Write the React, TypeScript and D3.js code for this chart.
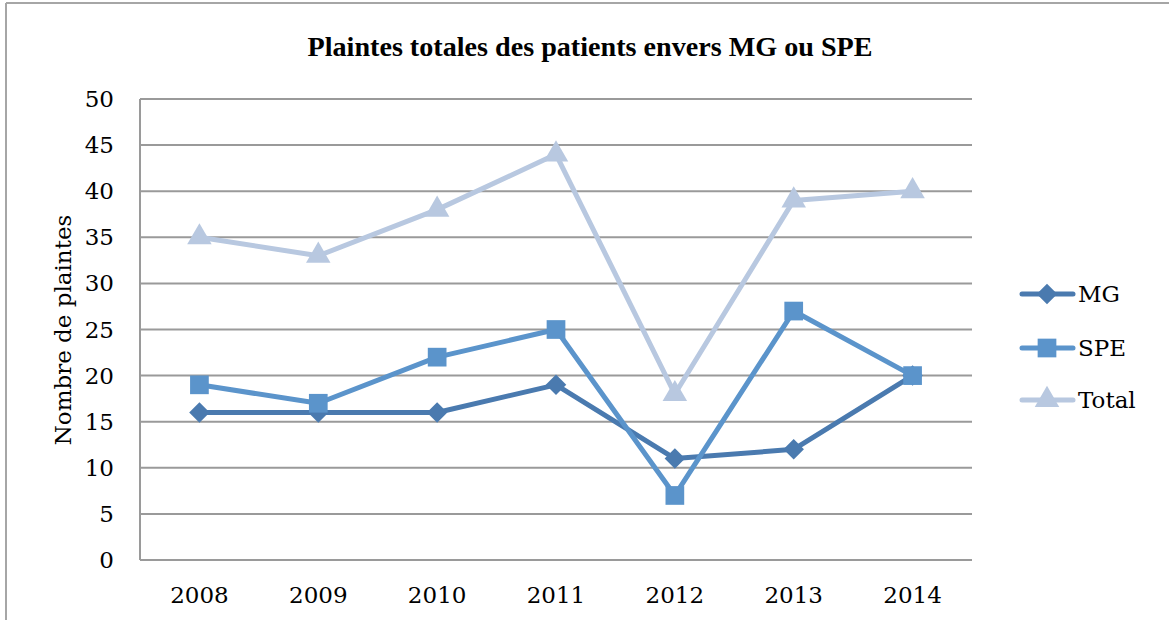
import React, { useRef, useEffect } from "react";
import * as d3 from "d3";

const years = ["2008", "2009", "2010", "2011", "2012", "2013", "2014"];
const mgValues = [16, 16, 16, 19, 11, 12, 20];
const speValues = [19, 17, 22, 25, 7, 27, 20];
const totalValues = [35, 33, 38, 44, 18, 39, 40];
const yTicks = [0, 5, 10, 15, 20, 25, 30, 35, 40, 45, 50];

const series = [
  { name: "MG", values: mgValues, color: "#4a7aaf", symbol: d3.symbolSquare, size: 210, rotate: 45 },
  { name: "SPE", values: speValues, color: "#5b94cb", symbol: d3.symbolSquare, size: 350, rotate: 0 },
  { name: "Total", values: totalValues, color: "#b8c8e0", symbol: d3.symbolTriangle, size: 260, rotate: 0 },
];

const W = 1169;
const H = 620;
const FONT = "'DejaVu Serif', serif";

export default function App() {
  const svgRef = useRef<SVGSVGElement>(null);

  useEffect(() => {
    const svg = d3.select(svgRef.current);
    svg.selectAll("*").remove();

    const left = 140, right = 972, top = 99, bottom = 560;

    const x = d3.scaleBand().domain(years).range([left, right]).paddingInner(0).paddingOuter(0);
    const y = d3.scaleLinear().domain([0, 50]).range([bottom, top]);
    const cx = (d: string) => x(d)! + x.bandwidth() / 2;

    // outer frame
    svg.append("line").attr("x1", 6).attr("x2", W).attr("y1", 3).attr("y2", 3)
      .attr("stroke", "#a6a6a6").attr("stroke-width", 2);
    svg.append("line").attr("x1", 6).attr("x2", 6).attr("y1", 3).attr("y2", H)
      .attr("stroke", "#a6a6a6").attr("stroke-width", 2);

    // title
    svg.append("text")
      .attr("x", 590).attr("y", 56)
      .attr("text-anchor", "middle")
      .attr("font-family", "'Liberation Serif', serif")
      .attr("font-weight", "bold")
      .attr("font-size", 28)
      .attr("textLength", 565)
      .attr("lengthAdjust", "spacingAndGlyphs")
      .text("Plaintes totales des patients envers MG ou SPE");

    // gridlines
    svg.append("g").selectAll("line").data(yTicks.filter((t) => t > 0)).join("line")
      .attr("x1", left).attr("x2", right)
      .attr("y1", (d) => y(d)).attr("y2", (d) => y(d))
      .attr("stroke", "#9a9a9a").attr("stroke-width", 2);

    // axes lines
    svg.append("line").attr("x1", left).attr("x2", left).attr("y1", top).attr("y2", bottom)
      .attr("stroke", "#9a9a9a").attr("stroke-width", 2);
    svg.append("line").attr("x1", left).attr("x2", right).attr("y1", bottom).attr("y2", bottom)
      .attr("stroke", "#9a9a9a").attr("stroke-width", 2);

    // y tick labels
    svg.append("g").selectAll("text").data(yTicks).join("text")
      .attr("x", 114).attr("y", (d) => y(d) + 8)
      .attr("text-anchor", "end")
      .attr("font-family", FONT).attr("font-size", 23)
      .text((d) => d);

    // x tick labels
    svg.append("g").selectAll("text").data(years).join("text")
      .attr("x", (d) => cx(d)).attr("y", 603)
      .attr("text-anchor", "middle")
      .attr("font-family", FONT).attr("font-size", 23)
      .text((d) => d);

    // y axis title
    svg.append("text")
      .attr("transform", "translate(71,330) rotate(-90)")
      .attr("text-anchor", "middle")
      .attr("font-family", FONT).attr("font-size", 23)
      .text("Nombre de plaintes");

    const line = d3.line<number>().x((_, i) => cx(years[i])).y((d) => y(d));

    series.forEach((s) => {
      const g = svg.append("g");
      g.append("path").datum(s.values)
        .attr("d", line)
        .attr("fill", "none")
        .attr("stroke", s.color)
        .attr("stroke-width", 5)
        .attr("stroke-linejoin", "round");
      g.selectAll("path.m").data(s.values).join("path")
        .attr("class", "m")
        .attr("transform", (d, i) => `translate(${cx(years[i])},${y(d)}) rotate(${s.rotate})`)
        .attr("d", d3.symbol().type(s.symbol).size(s.size)())
        .attr("fill", s.color);
    });

    // legend
    const legendY = [294, 348, 400];
    series.forEach((s, i) => {
      const g = svg.append("g").attr("transform", `translate(0,${legendY[i]})`);
      g.append("line").attr("x1", 1022).attr("x2", 1073).attr("y1", 0).attr("y2", 0)
        .attr("stroke", s.color).attr("stroke-width", 5).attr("stroke-linecap", "round");
      g.append("path").attr("transform", `translate(1047,0) rotate(${s.rotate})`)
        .attr("d", d3.symbol().type(s.symbol).size(s.size)())
        .attr("fill", s.color);
      g.append("text").attr("x", 1078).attr("y", 8)
        .attr("font-family", FONT).attr("font-size", 23)
        .text(s.name);
    });
  }, []);

  return (
    <svg
      ref={svgRef}
      width={W}
      height={H}
      style={{ position: "absolute", left: 0, top: 0, background: "#fff" }}
    />
  );
}
